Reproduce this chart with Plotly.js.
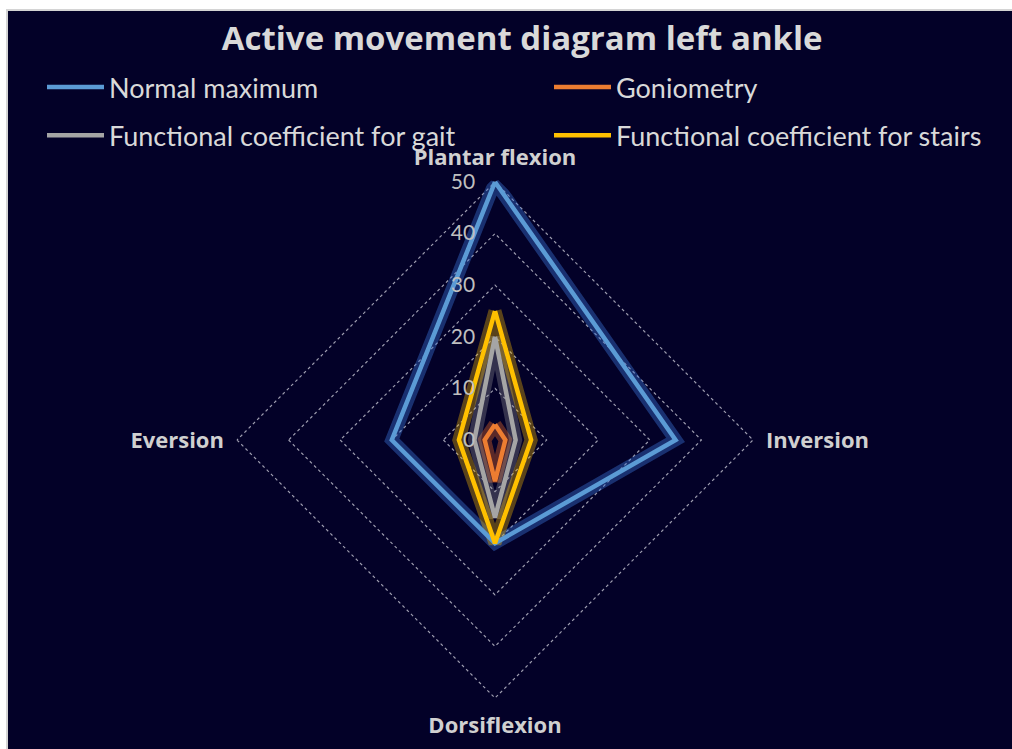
<!DOCTYPE html>
<html>
<head>
<meta charset="utf-8">
<script src="https://cdn.plot.ly/plotly-3.0.1.min.js"></script>
<style>html,body{margin:0;padding:0;background:#fff;}#chart{width:1012px;height:749px;}</style>
</head>
<body>
<div id="chart"></div>
<script>
const categories = ["Plantar flexion", "Inversion", "Dorsiflexion", "Eversion"];
const normalMaximum = [50, 35, 20, 20];
const goniometry = [3, 2, 8, 2];
const gaitCoefficient = [20, 4, 15, 4];
const stairsCoefficient = [25, 7, 20, 7];
const radialTicks = [0, 10, 20, 30, 40, 50];
const seriesNames = ["Normal maximum", "Goniometry", "Functional coefficient for gait", "Functional coefficient for stairs"];

const colors = ["#5b9bd5", "#ed7d31", "#a5a5a5", "#ffc000"];
const glow = ["rgba(60,120,220,0.4)", "rgba(200,90,40,0.45)", "rgba(165,165,165,0.3)", "rgba(255,192,0,0.35)"];
const legendOf = ["legend", "legend2", "legend", "legend2"];
const allSeries = [normalMaximum, goniometry, gaitCoefficient, stairsCoefficient];

function closed(arr){ return arr.concat([arr[0]]); }
const thetaClosed = closed(categories);

const traces = [];
allSeries.forEach((vals, i) => {
  traces.push({
    type: "scatterpolar", r: closed(vals), theta: thetaClosed, mode: "lines",
    line: {color: glow[i], width: 13}, showlegend: false, hoverinfo: "skip"
  });
});
allSeries.forEach((vals, i) => {
  traces.push({
    type: "scatterpolar", r: closed(vals), theta: thetaClosed, mode: "lines",
    name: seriesNames[i], legend: legendOf[i], legendgroup: "g" + i,
    line: {color: colors[i], width: 4.5}
  });
});

const W = 1012, H = 749;
const rMax = 51;
const cx = 495, cy = 440, R = 258 * rMax / 50;
const legendFont = {size: 27, color: "#d9d9d9", family: "Lato, 'Open Sans', sans-serif"};
const legendCommon = {
  orientation: "v", yanchor: "top", font: legendFont, bgcolor: "rgba(0,0,0,0)",
  itemwidth: 57, tracegroupgap: 10
};
const layout = {
  width: W, height: H,
  margin: {l: 0, r: 0, t: 0, b: 0},
  paper_bgcolor: "#ffffff",
  font: {family: "Lato, 'Open Sans', sans-serif", color: "#d9d9d9"},
  title: {
    text: "Active movement diagram left ankle",
    font: {size: 33, color: "#d9d9d9", family: "'Open Sans', Lato, sans-serif", weight: "bold"},
    x: 0.516, xanchor: "center", y: 1 - 38 / H, yanchor: "middle"
  },
  shapes: [{
    type: "rect", xref: "paper", yref: "paper", layer: "below",
    x0: 7 / W, x1: 1.01, y0: -0.01, y1: 1 - 10 / H,
    fillcolor: "#030128", line: {color: "#d4d4d4", width: 2}
  }],
  legend: Object.assign({x: 42 / W, xanchor: "left", y: 1 - 63 / H}, legendCommon),
  legend2: Object.assign({x: 549 / W, xanchor: "left", y: 1 - 63 / H}, legendCommon),
  polar: {
    domain: {x: [(cx - R) / W, (cx + R) / W], y: [1 - (cy + R) / H, 1 - (cy - R) / H]},
    bgcolor: "rgba(0,0,0,0)",
    gridshape: "linear",
    radialaxis: {
      range: [0, rMax], tickvals: radialTicks, ticktext: radialTicks.map(String),
      angle: 90, tickangle: 90, side: "counterclockwise",
      showline: false, ticks: "outside", ticklen: 12, tickcolor: "rgba(0,0,0,0)",
      gridcolor: "rgba(210,210,220,0.75)", griddash: "dot", gridwidth: 1.2,
      tickfont: {size: 21, color: "#bfbfbf", family: "Lato, 'Open Sans', sans-serif"}
    },
    angularaxis: {
      rotation: 90, direction: "clockwise",
      showgrid: false, showline: false,
      ticks: "outside", ticklen: 3, tickcolor: "rgba(0,0,0,0)",
      tickfont: {size: 22, color: "#d0d0d0", family: "'Open Sans', Lato, sans-serif", weight: "bold"}
    }
  },
  showlegend: true
};

Plotly.newPlot("chart", traces, layout, {displayModeBar: false, staticPlot: true});
</script>
</body>
</html>
